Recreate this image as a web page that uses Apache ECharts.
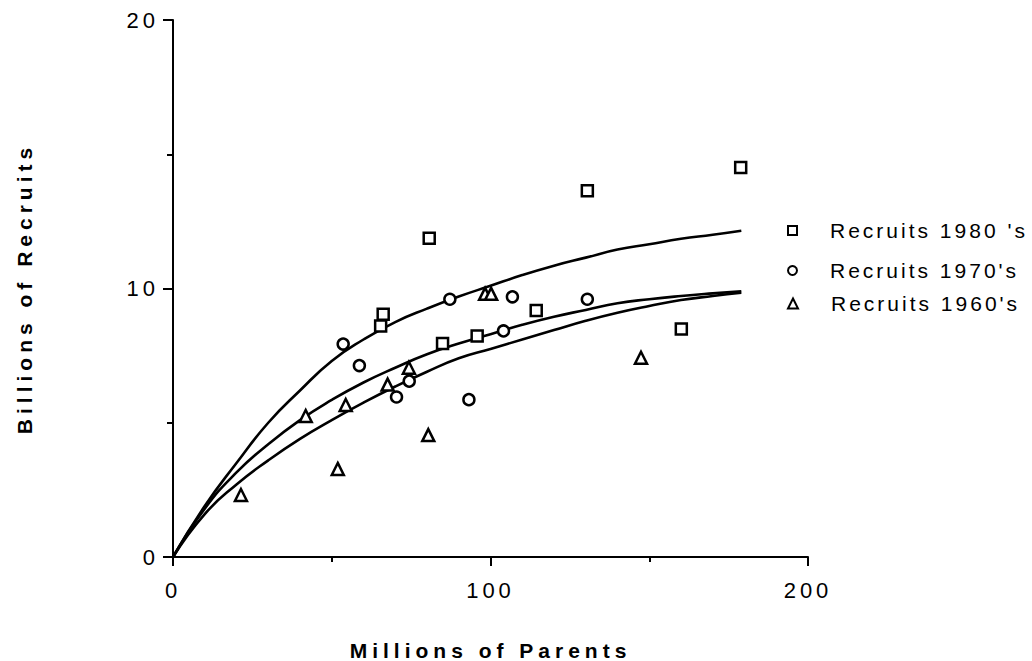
<!DOCTYPE html>
<html>
<head>
<meta charset="utf-8">
<script src="https://cdn.jsdelivr.net/npm/echarts@6/dist/echarts.min.js"></script>
<style>
html,body{margin:0;padding:0;background:#fff;}
#c{width:1032px;height:661px;}
#c svg text{letter-spacing:4px;}
#c svg text[style*="21px"]{letter-spacing:3px;}
#c svg text[style*="bold"]{letter-spacing:5px;}
</style>
</head>
<body>
<div id="c"></div>
<script>
// Scatter observations [parents (millions), recruits (billions)]
const recruits1980 = [[65.4,8.6],[66.2,9.04],[80.7,11.87],[84.9,7.95],[95.8,8.23],[114.4,9.18],[130.5,13.64],[160.1,8.49],[178.8,14.51]];
const recruits1970 = [[53.6,7.93],[58.7,7.13],[70.4,5.96],[74.4,6.55],[87.2,9.6],[93.2,5.86],[104.1,8.42],[106.9,9.69],[130.5,9.6]];
const recruits1960 = [[21.4,2.31],[41.8,5.25],[51.9,3.28],[54.4,5.66],[67.6,6.42],[74.3,7.05],[80.4,4.54],[98.3,9.8],[100.2,9.8],[147.4,7.42]];

// Fitted curves
const curveX = [0,10,20,30,40,50,60,70,80,90,100,110,120,130,140,150,160,170,179];
const curve1980 = [0,1.9,3.5,5.0,6.2,7.3,8.1,8.75,9.25,9.7,10.1,10.5,10.85,11.15,11.45,11.65,11.85,12.0,12.15];
const curve1970 = [0,1.8,3.15,4.2,5.1,5.85,6.5,7.05,7.55,7.95,8.3,8.65,8.95,9.2,9.45,9.6,9.72,9.82,9.9];
const curve1960 = [0,1.6,2.7,3.6,4.4,5.1,5.75,6.35,6.9,7.4,7.75,8.1,8.45,8.8,9.1,9.35,9.57,9.72,9.84];

const seriesNames = ["Recruits 1980 's","Recruits 1970's","Recruits 1960's"];
const xTitle = "Millions of Parents";
const yTitle = "Billions of Recruits";

const FONT = "'Liberation Sans', Arial, sans-serif";
const pair = (ys) => curveX.map((x,i)=>[x, ys[i]]);

const chart = echarts.init(document.getElementById('c'), null, {renderer:'svg'});

const hollow = {color:'#fff', borderColor:'#000', borderWidth:2.5, opacity:1};
const lineS = (data) => ({type:'line', data:pair(data), smooth:true, showSymbol:false, symbol:'none',
  lineStyle:{color:'#000', width:2.6}, silent:true, z:1});

function legendAt(name, top, w, h){
  return {show:true, data:[name], orient:'vertical', left:782, top:top,
    itemWidth:w, itemHeight:h, itemGap:0,
    textStyle:{color:'#000', fontSize:21, fontFamily:FONT, padding:[0,0,0,28]},
    selectedMode:false};
}

chart.setOption({
  animation:false,
  backgroundColor:'#fff',
  grid:{left:173, right:224, top:20, bottom:104, containLabel:false, outerBoundsMode:'none'},
  legend:[
    legendAt(seriesNames[0], 215, 9, 9),
    legendAt(seriesNames[1], 255, 9, 9),
    legendAt(seriesNames[2], 288, 10, 10)
  ],
  xAxis:{type:'value', min:0, max:200, interval:100,
    name:xTitle, nameLocation:'middle', nameGap:83,
    nameTextStyle:{color:'#000', fontSize:21, fontWeight:'bold', fontFamily:FONT},
    axisLine:{show:true, onZero:false, lineStyle:{color:'#000', width:2}},
    axisTick:{show:true, length:9, lineStyle:{color:'#000', width:2}},
    minorTick:{show:true, splitNumber:2, length:5, lineStyle:{color:'#000', width:2}},
    splitLine:{show:false}, minorSplitLine:{show:false},
    axisLabel:{color:'#000', fontSize:22, fontFamily:FONT, margin:22}
  },
  yAxis:{type:'value', min:0, max:20, interval:10,
    name:yTitle, nameLocation:'middle', nameGap:138, nameRotate:90,
    nameTextStyle:{color:'#000', fontSize:21, fontWeight:'bold', fontFamily:FONT},
    axisLine:{show:true, onZero:false, lineStyle:{color:'#000', width:2}},
    axisTick:{show:true, length:10, lineStyle:{color:'#000', width:2}},
    minorTick:{show:true, splitNumber:2, length:6, lineStyle:{color:'#000', width:2}},
    splitLine:{show:false}, minorSplitLine:{show:false},
    axisLabel:{color:'#000', fontSize:22, fontFamily:FONT, margin:14}
  },
  series:[
    lineS(curve1980), lineS(curve1970), lineS(curve1960),
    {name:seriesNames[0], type:'scatter', data:recruits1980, symbol:'rect', symbolSize:11, itemStyle:hollow, z:3},
    {name:seriesNames[1], type:'scatter', data:recruits1970, symbol:'circle', symbolSize:11, itemStyle:hollow, z:3},
    {name:seriesNames[2], type:'scatter', data:recruits1960, symbol:'triangle', symbolSize:12, itemStyle:hollow, z:3}
  ]
});
</script>
</body>
</html>
